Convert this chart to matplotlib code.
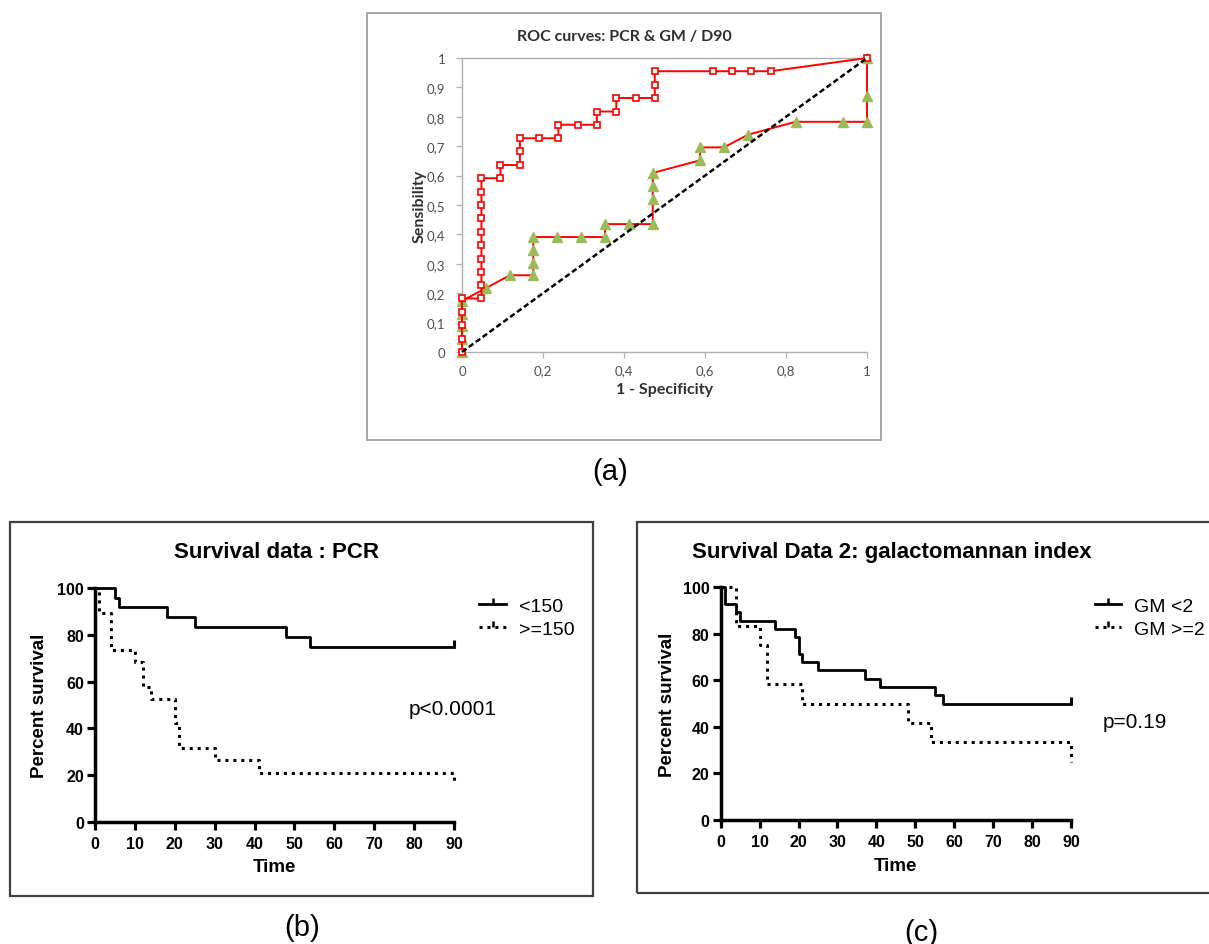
import matplotlib
matplotlib.use('Agg')
import matplotlib.pyplot as plt
from matplotlib.lines import Line2D
from matplotlib.path import Path
from matplotlib.patches import Rectangle

W, H = 1209, 945

# ---------------- data ----------------
# ROC: PCR (red squares)
pcr_fpr = [0, 0, 0, 0, 0,
           0.048, 0.048, 0.048, 0.048, 0.048, 0.048, 0.048, 0.048, 0.048, 0.048,
           0.095, 0.095, 0.143, 0.143, 0.143, 0.190, 0.238, 0.238, 0.286,
           0.333, 0.333, 0.381, 0.381, 0.429, 0.476, 0.476, 0.476,
           0.619, 0.667, 0.714, 0.762, 1.0]
pcr_tpr = [0, 0.045, 0.091, 0.136, 0.182,
           0.182, 0.227, 0.273, 0.318, 0.364, 0.409, 0.455, 0.500, 0.545, 0.591,
           0.591, 0.636, 0.636, 0.682, 0.727, 0.727, 0.727, 0.773, 0.773,
           0.773, 0.818, 0.818, 0.864, 0.864, 0.864, 0.909, 0.955,
           0.955, 0.955, 0.955, 0.955, 1.0]
# ROC: GM (green triangles)
gm_fpr = [0, 0, 0, 0, 0, 0.059, 0.118, 0.176, 0.176, 0.176, 0.176, 0.235, 0.294,
          0.353, 0.353, 0.412, 0.471, 0.471, 0.471, 0.471, 0.588, 0.588, 0.647,
          0.706, 0.824, 0.941, 1.0, 1.0, 1.0]
gm_tpr = [0, 0.043, 0.087, 0.130, 0.174, 0.217, 0.261, 0.261, 0.304, 0.348, 0.391,
          0.391, 0.391, 0.391, 0.435, 0.435, 0.435, 0.522, 0.565, 0.609, 0.652,
          0.696, 0.696, 0.739, 0.783, 0.783, 0.783, 0.870, 1.0]
diag = [0, 1]
roc_xticks = [0, 0.2, 0.4, 0.6, 0.8, 1.0]
roc_xlabels = ["0", "0,2", "0,4", "0,6", "0,8", "1"]
roc_yticks = [0, 0.1, 0.2, 0.3, 0.4, 0.5, 0.6, 0.7, 0.8, 0.9, 1.0]
roc_ylabels = ["0", "0,1", "0,2", "0,3", "0,4", "0,5", "0,6", "0,7", "0,8", "0,9", "1"]

# Survival (b): PCR
pcr_low_t = [0, 5, 6, 18, 25, 48, 54, 90]
pcr_low_s = [100, 95.8, 91.7, 87.5, 83.3, 79.2, 75.0, 75.0]
pcr_low_cens_t = [90]
pcr_low_cens_s = [75.0]
pcr_high_t = [0, 1, 4, 10, 12, 14, 20, 21, 30, 41, 90]
pcr_high_s = [100, 89.5, 73.7, 68.4, 57.9, 52.6, 42.1, 31.6, 26.3, 21.1, 15.8]

# Survival (c): GM
gm_low_t = [0, 1, 4, 5, 14, 19, 20, 21, 25, 37, 41, 55, 57, 90]
gm_low_s = [100, 92.9, 89.3, 85.7, 82.1, 78.6, 71.4, 67.9, 64.3, 60.7, 57.1, 53.6, 50.0, 50.0]
gm_low_cens_t = [90]
gm_low_cens_s = [50.0]
gm_high_t = [0, 4, 10, 12, 21, 48, 54, 90]
gm_high_s = [100, 83.3, 75.0, 58.3, 50.0, 41.7, 33.3, 25.0]

surv_xticks = [0, 10, 20, 30, 40, 50, 60, 70, 80, 90]
surv_yticks = [0, 20, 40, 60, 80, 100]

# ---------------- figure ----------------
fig = plt.figure(figsize=(W / 100, H / 100), dpi=100)

def axes_px(l, t, r, b):
    return fig.add_axes([l / W, 1 - b / H, (r - l) / W, (b - t) / H])

def fx(x):
    return x / W

def fy(y):
    return 1 - y / H

# panel boxes
fig.patches.append(Rectangle((fx(367), fy(441)), (881 - 367) / W, (441 - 14) / H,
                             transform=fig.transFigure, fill=False,
                             edgecolor='#a0a0a0', lw=1.3))
fig.patches.append(Rectangle((fx(10), fy(897)), (593 - 10) / W, (897 - 523) / H,
                             transform=fig.transFigure, fill=False,
                             edgecolor='#404040', lw=1.6))
fig.patches.append(Rectangle((fx(637), fy(894)), (1215 - 637) / W, (894 - 523) / H,
                             transform=fig.transFigure, fill=False,
                             edgecolor='#404040', lw=1.6))

# ---------------- ROC ----------------
roc_font = 'Lato'
ax = axes_px(462, 59, 867, 353)
ax.plot(gm_fpr, gm_tpr, color='#ff0000', lw=1.4, marker='^', markersize=7.5,
        markerfacecolor='#9bbb59', markeredgecolor='#9bbb59', clip_on=False, zorder=3)
ax.plot(pcr_fpr, pcr_tpr, color='#ff0000', lw=1.4, marker='s', markersize=4.8,
        markerfacecolor='white', markeredgecolor='#ff0000', markeredgewidth=1.2,
        clip_on=False, zorder=4)
ax.plot(diag, diag, color='black', lw=1.8, ls=(0, (2.2, 1.2)), zorder=5, clip_on=False)
ax.set_xlim(0, 1)
ax.set_ylim(0, 1)
ax.set_xticks(roc_xticks)
ax.set_xticklabels(roc_xlabels)
ax.set_yticks(roc_yticks)
ax.set_yticklabels(roc_ylabels)
for s in ['left', 'bottom', 'top']:
    ax.spines[s].set_color('#b0b0b0')
    ax.spines[s].set_linewidth(1.0)
ax.spines['right'].set_visible(False)
ax.tick_params(direction='out', length=4, width=0.9, color='#b0b0b0',
               labelcolor='#505050', labelsize=9.5)
ax.tick_params(axis='x', pad=5)
ax.tick_params(axis='y', pad=8)
for lab in ax.get_xticklabels() + ax.get_yticklabels():
    lab.set_fontfamily(roc_font)
fig.text(fx(624), fy(37), 'ROC curves: PCR & GM / D90', ha='center', va='center',
         fontsize=11.5, fontweight='bold', family=roc_font, color='#303030')
fig.text(fx(420), fy(206), 'Sensibility', ha='center', va='center', rotation=90,
         fontsize=11.5, fontweight='bold', family=roc_font, color='#303030')
fig.text(fx(665), fy(390), '1 - Specificity', ha='center', va='center',
         fontsize=11.5, fontweight='bold', family=roc_font, color='#303030')

# ---------------- survival helpers ----------------
sfont = 'Liberation Sans'
cens_marker = Path([(0, 0), (0, 1)])

def style_surv(ax):
    ax.set_xlim(0, 90)
    ax.set_ylim(0, 100)
    ax.set_xticks(surv_xticks)
    ax.set_yticks(surv_yticks)
    ax.spines['top'].set_visible(False)
    ax.spines['right'].set_visible(False)
    for s in ['left', 'bottom']:
        ax.spines[s].set_linewidth(2.5)
        ax.spines[s].set_color('black')
        ax.spines[s].set_capstyle('projecting')
    ax.tick_params(direction='out', length=6, width=2.3, color='black',
                   labelsize=11.5)
    ax.tick_params(axis='x', pad=4)
    ax.tick_params(axis='y', pad=2)
    for lab in ax.get_xticklabels() + ax.get_yticklabels():
        lab.set_fontfamily(sfont)
        lab.set_fontweight('bold')

def legend_handles():
    h1 = Line2D([], [], color='black', lw=2.0, ls='-', marker=cens_marker,
                markersize=9, markeredgewidth=1.8)
    h2 = Line2D([], [], color='black', lw=2.2, ls=(0, (1, 1.6)), marker=cens_marker,
                markersize=9, markeredgewidth=1.8, dash_capstyle='butt')
    return [h1, h2]

# ---------------- (b) ----------------
axb = axes_px(95, 589, 454, 823)
axb.step(pcr_low_t, pcr_low_s, where='post', color='black', lw=2.0, clip_on=False, zorder=4)
axb.plot(pcr_low_cens_t, pcr_low_cens_s, ls='none', marker=cens_marker, markersize=10,
         markeredgewidth=2.2, color='black', clip_on=False, zorder=4)
axb.step(pcr_high_t, pcr_high_s, where='post', color='black', lw=2.2,
         ls=(0, (1, 1.6)), dash_capstyle='butt', clip_on=False, zorder=3)
style_surv(axb)
axb.set_xlabel('Time', fontsize=13.5, fontweight='bold', family=sfont)
axb.set_ylabel('Percent survival', fontsize=13.5, fontweight='bold', family=sfont)
axb.xaxis.set_label_coords(0.5, (823 - 868) / (823 - 589))
axb.yaxis.set_label_coords((39 - 95) / (454 - 95), 0.5)
axb.xaxis.label.set_va('center')
axb.yaxis.label.set_va('center')
fig.text(fx(276), fy(553), 'Survival data : PCR', ha='center', va='center',
         fontsize=16, fontweight='bold', family=sfont)
axb.legend(legend_handles(), ['<150', '>=150'], loc='center left',
           bbox_to_anchor=(fx(479), fy(618.5)), bbox_transform=fig.transFigure,
           frameon=False, borderpad=0, borderaxespad=0, handlelength=1.4,
           handletextpad=0.65, labelspacing=0.25,
           prop={'family': sfont, 'size': 14})
fig.text(fx(409), fy(710), 'p<0.0001', ha='left', va='center', fontsize=15, family=sfont)
fig.text(fx(302), fy(928), '(b)', ha='center', va='center', fontsize=21, family=sfont)

# ---------------- (c) ----------------
axc = axes_px(720.7, 588.3, 1071, 820.7)
axc.step(gm_low_t, gm_low_s, where='post', color='black', lw=2.0, clip_on=False, zorder=4)
axc.plot(gm_low_cens_t, gm_low_cens_s, ls='none', marker=cens_marker, markersize=10,
         markeredgewidth=2.2, color='black', clip_on=False, zorder=4)
axc.step(gm_high_t, gm_high_s, where='post', color='black', lw=2.2,
         ls=(0, (1, 1.6)), dash_capstyle='butt', clip_on=False, zorder=3)
style_surv(axc)
axc.set_xlabel('Time', fontsize=13.5, fontweight='bold', family=sfont)
axc.set_ylabel('Percent survival', fontsize=13.5, fontweight='bold', family=sfont)
axc.xaxis.set_label_coords(0.5, (820.7 - 867) / (820.7 - 588.3))
axc.yaxis.set_label_coords((667 - 720.7) / (1071 - 720.7), 0.5)
axc.xaxis.label.set_va('center')
axc.yaxis.label.set_va('center')
fig.text(fx(692), fy(553), 'Survival Data 2: galactomannan index', ha='left', va='center',
         fontsize=16, fontweight='bold', family=sfont)
axc.legend(legend_handles(), ['GM <2', 'GM >=2'], loc='center left',
           bbox_to_anchor=(fx(1095), fy(618.5)), bbox_transform=fig.transFigure,
           frameon=False, borderpad=0, borderaxespad=0, handlelength=1.35,
           handletextpad=0.65, labelspacing=0.25,
           prop={'family': sfont, 'size': 14})
fig.text(fx(1103), fy(723), 'p=0.19', ha='left', va='center', fontsize=15, family=sfont)
fig.text(fx(921), fy(933), '(c)', ha='center', va='center', fontsize=21, family=sfont)

fig.text(fx(610), fy(472), '(a)', ha='center', va='center', fontsize=21, family=sfont)

fig.savefig('out.png', dpi=100)
